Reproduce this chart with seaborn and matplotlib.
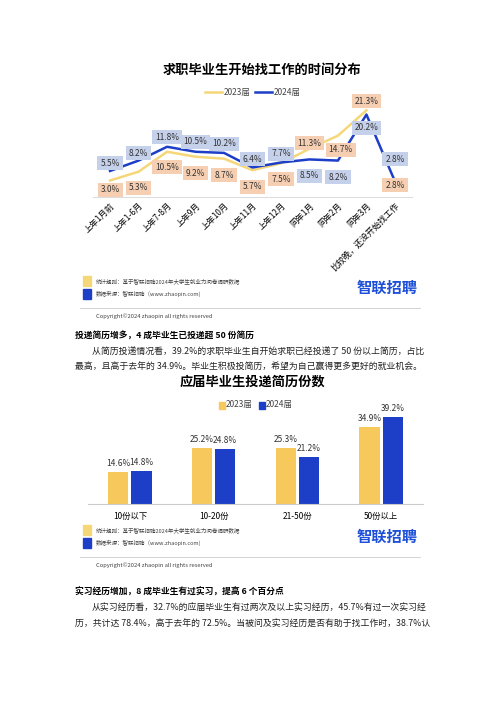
import matplotlib
matplotlib.use('Agg')
import matplotlib.pyplot as plt
import matplotlib.transforms as mtransforms
from matplotlib.patches import Rectangle
import numpy as np
import pandas as pd
import seaborn as sns

# Podaci - gornji grafikon
months = ['上年1月前', '上年1-6月', '上年7-8月', '上年9月', '上年10月', '上年11月',
          '上年12月', '同年1月', '同年2月', '同年3月', '比较晚，还没开始找工作']
start_2023 = [3.0, 5.3, 10.5, 9.2, 8.7, 5.7, 7.5, 11.3, 14.7, 21.3]
start_2023_last = 2.8
start_2024 = [5.5, 8.2, 11.8, 10.5, 10.2, 6.4, 7.7, 8.5, 8.2, 20.2, 2.8]

# Podaci - donji grafikon
resume_cats = ['10份以下', '10-20份', '21-50份', '50份以上']
resume_2023 = [14.6, 25.2, 25.3, 34.9]
resume_2024 = [14.8, 24.8, 21.2, 39.2]

YEL = '#f7c85c'
YEL_LINE = '#f5d77a'
BLUE = '#1d3fc8'
BOX_OR = '#f6cfb2'
BOX_BL = '#c5d0ea'

plt.rcParams['font.family'] = ['Noto Sans CJK SC', 'DejaVu Sans']
W, H = 500, 707
fig = plt.figure(figsize=(5, 7.07), dpi=100)

def fx(px):
    return px / W

def fy(py):
    return 1 - py / H

def ftext(px, py, s, **kw):
    fig.text(fx(px), fy(py), s, **kw)

# ---------- gornji grafikon ----------
ftext(262, 70, '求职毕业生开始找工作的时间分布', ha='center', va='center',
      fontsize=9.5, fontweight='bold')
fig.add_artist(plt.Line2D([fx(205), fx(222)], [fy(92)] * 2, color=YEL_LINE, lw=1.8))
ftext(224, 92, '2023届', fontsize=6, va='center', color='#444')
fig.add_artist(plt.Line2D([fx(255), fx(272)], [fy(92)] * 2, color=BLUE, lw=1.8))
ftext(274, 92, '2024届', fontsize=6, va='center', color='#444')

ax1 = fig.add_axes([fx(93), fy(197), fx(412 - 93), (197 - 100) / H])
df1 = pd.DataFrame({'x': list(range(len(start_2023))) + list(range(len(start_2024))),
                    'v': start_2023 + start_2024,
                    'year': ['2023'] * len(start_2023) + ['2024'] * len(start_2024)})
sns.lineplot(data=df1, x='x', y='v', hue='year', palette={'2023': YEL_LINE, '2024': BLUE},
             lw=1.8, ax=ax1, legend=False)
ax1.set_xlim(-0.6, 10.6)
ax1.set_ylim(-1.3, 24)
for s in ['top', 'right', 'left']:
    ax1.spines[s].set_visible(False)
ax1.spines['bottom'].set_color('#dddddd')
ax1.set_yticks([])
ax1.set_xticks(range(len(months)))
ax1.set_xticklabels(months, rotation=45, ha='right', rotation_mode='anchor', fontsize=6)
ax1.tick_params(axis='x', length=0, pad=3)
ax1.set_xlabel('')
ax1.set_ylabel('')

lbl_y23 = [190, 188, 167, 173, 175, 187, 179, 143, 150, 101, 185]
lbl_y24 = [163, 153, 137, 142, 144, 159, 154, 176, 177, 128, 159]
tr = mtransforms.blended_transform_factory(ax1.transData, fig.transFigure)
vals23 = start_2023 + [start_2023_last]
for i, v in enumerate(vals23):
    dx = 0.1 if i == 8 else 0
    ax1.text(i + dx, fy(lbl_y23[i]), f'{v:.1f}%', transform=tr, ha='center', va='center',
             fontsize=6, color='#333',
             bbox=dict(boxstyle='square,pad=0.35', fc=BOX_OR, ec='none'))
for i, v in enumerate(start_2024):
    ax1.text(i, fy(lbl_y24[i]), f'{v:.1f}%', transform=tr, ha='center', va='center',
             fontsize=6, color='#333',
             bbox=dict(boxstyle='square,pad=0.35', fc=BOX_BL, ec='none'))

def footer(y0):
    fig.add_artist(Rectangle((fx(83), fy(y0 + 5)), fx(8), 10 / H, color=YEL_LINE))
    fig.add_artist(Rectangle((fx(83), fy(y0 + 18)), fx(8), 10 / H, color=BLUE))
    ftext(96, y0, '统计规则：基于智联招聘2024年大学生就业力问卷调研数据', fontsize=4, va='center', color='#444')
    ftext(96, y0 + 13, '数据来源：智联招聘（www.zhaopin.com)', fontsize=4, va='center', color='#444')
    ftext(357, y0 + 7, '智联招聘', fontsize=11, fontweight='bold', va='center', color='#1d4fd8')
    fig.add_artist(plt.Line2D([fx(80), fx(420)], [fy(y0 + 27)] * 2, color='#cccccc', lw=0.6))
    ftext(96, y0 + 35, 'Copyright©2024 zhaopin all rights reserved', fontsize=4.2, va='center', color='#444')

footer(281)

# ---------- tekst ----------
ftext(75, 336, '投递简历增多，4 成毕业生已投递超 50 份简历', fontsize=6.3, fontweight='bold', va='center')
ftext(92, 352, '从简历投递情况看，39.2%的求职毕业生自开始求职已经投递了 50 份以上简历，占比',
      fontsize=6.4, va='center', color='#222')
ftext(75, 366, '最高，且高于去年的 34.9%。毕业生积极投简历，希望为自己赢得更多更好的就业机会。',
      fontsize=6.4, va='center', color='#222')

# ---------- donji grafikon ----------
ftext(252, 382, '应届毕业生投递简历份数', ha='center', va='center', fontsize=9.5, fontweight='bold')
fig.add_artist(Rectangle((fx(219), fy(409)), fx(6), 7 / H, color=YEL))
ftext(226, 405, '2023届', fontsize=6, va='center', color='#444')
fig.add_artist(Rectangle((fx(259), fy(409)), fx(6), 7 / H, color=BLUE))
ftext(266, 405, '2024届', fontsize=6, va='center', color='#444')

ax2 = fig.add_axes([fx(88), fy(504), fx(423 - 88), (504 - 400) / H])
df2 = pd.DataFrame({'cat': resume_cats * 2, 'v': resume_2023 + resume_2024,
                    'year': ['2023'] * 4 + ['2024'] * 4})
sns.barplot(data=df2, x='cat', y='v', hue='year', palette={'2023': YEL, '2024': BLUE},
            width=0.55, gap=0.12, ax=ax2, legend=False, saturation=1)
for c in ax2.containers:
    ax2.bar_label(c, fmt='%.1f%%', fontsize=6, padding=3, color='#333')
ax2.set_ylim(0, 47)
ax2.set_xlim(-0.5, 3.5)
for s in ['top', 'right', 'left']:
    ax2.spines[s].set_visible(False)
ax2.spines['bottom'].set_color('#cccccc')
ax2.set_yticks([])
ax2.tick_params(axis='x', length=0, labelsize=6, pad=6)
ax2.set_xlabel('')
ax2.set_ylabel('')

footer(530)

ftext(75, 592, '实习经历增加，8 成毕业生有过实习，提高 6 个百分点', fontsize=6.3, fontweight='bold', va='center')
ftext(92, 608, '从实习经历看，32.7%的应届毕业生有过两次及以上实习经历，45.7%有过一次实习经',
      fontsize=6.4, va='center', color='#222')
ftext(75, 624, '历，共计达 78.4%，高于去年的 72.5%。当被问及实习经历是否有助于找工作时，38.7%认',
      fontsize=6.4, va='center', color='#222')

fig.savefig('out.png', dpi=100)
